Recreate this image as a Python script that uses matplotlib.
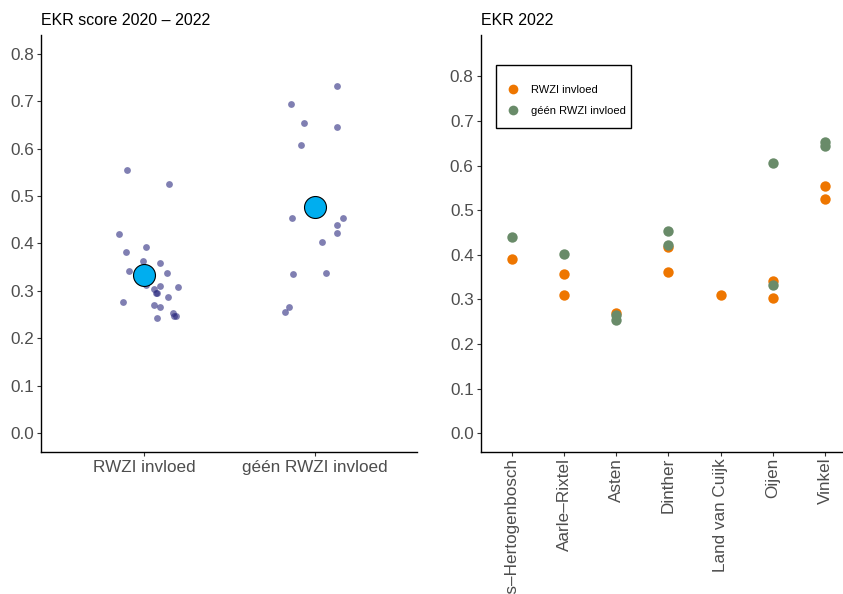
import matplotlib
matplotlib.use('Agg')
import matplotlib.pyplot as plt
import numpy as np
from matplotlib.lines import Line2D
from matplotlib.patches import Rectangle

plt.rcParams['font.family'] = ['Liberation Sans', 'DejaVu Sans']

# ---------------- data: left panel (EKR 2020 - 2022) ----------------
groups = ['RWZI invloed', 'géén RWZI invloed']

rwzi_values = [0.556, 0.525, 0.420, 0.383, 0.392, 0.362, 0.358, 0.342, 0.338,
               0.312, 0.309, 0.310, 0.304, 0.295, 0.296, 0.287, 0.276, 0.270,
               0.265, 0.253, 0.248, 0.247, 0.243]
rwzi_jitter = [-0.098, 0.148, -0.144, -0.104, 0.013, -0.008, 0.095, -0.089, 0.136,
               0.012, 0.197, 0.095, 0.057, 0.070, 0.078, 0.142, -0.123, 0.060,
               0.095, 0.168, 0.176, 0.186, 0.078]

geen_values = [0.733, 0.694, 0.654, 0.646, 0.607, 0.454, 0.454, 0.440, 0.422,
               0.404, 0.335, 0.338, 0.266, 0.255]
geen_jitter = [0.129, -0.139, -0.064, 0.133, -0.082, -0.130, 0.164, 0.133, 0.133,
               0.045, -0.125, 0.068, -0.152, -0.174]

group_means = [0.333, 0.478]

# ---------------- data: right panel (EKR 2022) ----------------
sites = ["'s–Hertogenbosch", 'Aarle–Rixtel', 'Asten', 'Dinther',
         'Land van Cuijk', 'Oijen', 'Vinkel']

r22_site = ["'s–Hertogenbosch", 'Aarle–Rixtel', 'Aarle–Rixtel', 'Asten',
            'Dinther', 'Dinther', 'Land van Cuijk', 'Oijen', 'Oijen',
            'Vinkel', 'Vinkel',
            "'s–Hertogenbosch", 'Aarle–Rixtel', 'Asten', 'Asten',
            'Dinther', 'Dinther', 'Oijen', 'Oijen', 'Vinkel', 'Vinkel']
r22_group = ['RWZI invloed'] * 11 + ['géén RWZI invloed'] * 10
r22_value = [0.391, 0.357, 0.309, 0.269, 0.418, 0.361, 0.309, 0.342, 0.304,
             0.555, 0.524,
             0.439, 0.402, 0.264, 0.253, 0.453, 0.421, 0.606, 0.333, 0.652, 0.643]

y_ticks = [0.0, 0.1, 0.2, 0.3, 0.4, 0.5, 0.6, 0.7, 0.8]

# ---------------- styling ----------------
TICK_COLOR = '#333333'
LABEL_COLOR = '#4D4D4D'
TICK_SIZE = 12.3
group_colors = {'RWZI invloed': '#EE7600', 'géén RWZI invloed': '#698B69'}

fig = plt.figure(figsize=(8.43, 5.94), dpi=100)
ax1 = fig.add_axes([0.0492, 0.2391, 0.4455, 0.7020])
ax2 = fig.add_axes([0.5702, 0.2386, 0.4456, 0.7025])


def style(ax):
    for s in ['top', 'right']:
        ax.spines[s].set_visible(False)
    for s in ['left', 'bottom']:
        ax.spines[s].set_color('black')
        ax.spines[s].set_linewidth(1.0)
    ax.tick_params(direction='out', length=3, width=0.8, color=TICK_COLOR,
                   labelcolor=LABEL_COLOR, labelsize=TICK_SIZE)
    ax.tick_params(axis='y', pad=2)
    ax.set_yticks(y_ticks)
    ax.set_yticklabels([f'{v:.1f}' for v in y_ticks])


# ---- left panel ----
style(ax1)
ax1.scatter(1 + np.array(rwzi_jitter), rwzi_values, s=24, color='#2B2A80',
            alpha=0.6, linewidths=0, zorder=2)
ax1.scatter(2 + np.array(geen_jitter), geen_values, s=24, color='#2B2A80',
            alpha=0.6, linewidths=0, zorder=2)
ax1.scatter([1, 2], group_means, s=250, facecolor='#00AEEF', edgecolor='black',
            linewidths=0.8, zorder=3)
ax1.set_xlim(0.4, 2.6)
ax1.set_ylim(-0.04, 0.84)
ax1.set_xticks([1, 2])
ax1.set_xticklabels(groups)
ax1.tick_params(axis='x', pad=3)
ax1.set_title('EKR score 2020 – 2022', loc='left', fontsize=11.5, pad=7,
              color='black')

# ---- right panel ----
style(ax2)
for g in groups:
    xs = [sites.index(s) + 1 for s, gg in zip(r22_site, r22_group) if gg == g]
    ys = [v for v, gg in zip(r22_value, r22_group) if gg == g]
    ax2.scatter(xs, ys, s=56, color=group_colors[g], linewidths=0, zorder=2)
ax2.set_xlim(0.4, len(sites) + 0.6)
ax2.set_ylim(-0.0425, 0.8925)
ax2.set_xticks(range(1, len(sites) + 1))
ax2.set_xticklabels(sites, rotation=90, ha='center', va='top')
ax2.tick_params(axis='x', pad=1)
ax2.set_title('EKR 2022', loc='left', fontsize=11.5, pad=7, color='black')

handles = [Line2D([], [], linestyle='none', marker='o', markersize=7,
                  markerfacecolor=group_colors[g], markeredgewidth=0)
           for g in groups]
leg = ax2.legend(handles, groups, loc='center left',
                 bbox_to_anchor=(0.0706, 0.843), borderaxespad=0,
                 fontsize=8, frameon=False, borderpad=0, handlelength=1.1,
                 handletextpad=1.05, labelspacing=1.0)
ax2.add_patch(Rectangle((0.0407, 0.7764), 0.3587, 0.1517, transform=ax2.transAxes,
                        facecolor='white', edgecolor='black', linewidth=1.0,
                        zorder=4, clip_on=False))
leg.set_zorder(5)

fig.savefig('out.png', dpi=100)
